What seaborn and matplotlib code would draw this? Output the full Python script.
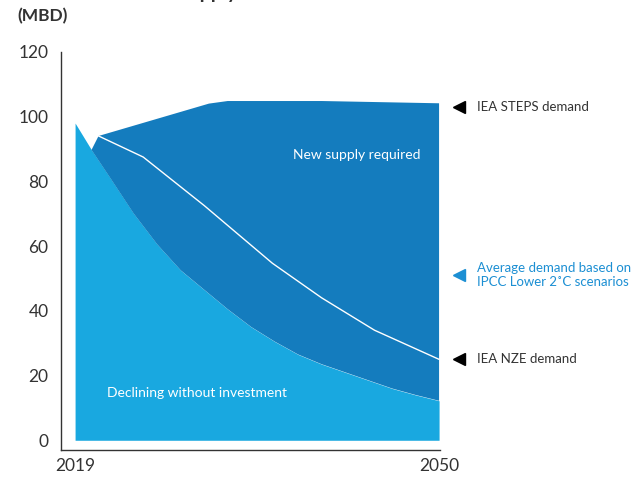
import numpy as np
import matplotlib
matplotlib.use('Agg')
import matplotlib.pyplot as plt
import seaborn as sns

# Data, million barrels per day
decline_years = [2019, 2020.4, 2022, 2024, 2026, 2028, 2030, 2032, 2034, 2036,
                 2038, 2040, 2042, 2044, 2046, 2048, 2050]
decline_vals = [98, 89.7, 81, 70, 60.5, 52.5, 46.5, 40.5, 35, 30.5,
                26.5, 23.5, 21, 18.5, 16, 14, 12.2]

steps_years = [2021, 2030.4, 2032, 2040, 2050]
steps_vals = [94, 104, 104.8, 104.8, 104.1]

nze_years = [2021, 2024.8, 2030, 2035.8, 2040, 2044.5, 2050]
nze_vals = [94, 87.5, 72.5, 54.7, 44, 34, 25]

ipcc_avg_2050 = 51
y_ticks = [0, 20, 40, 60, 80, 100, 120]
x_ticks = [2019, 2050]

light_blue = '#19A8E0'
dark_blue = '#147CBE'
text_blue = '#1C8FD3'
ink = '#333333'

sns.set_style('white')
plt.rcParams['font.family'] = ['Lato', 'DejaVu Sans']

fig = plt.figure(figsize=(6.44, 4.78), dpi=100)
ax = fig.add_axes([0.0947, 0.0586, 0.588, 0.833])

# declining supply without investment
ax.fill_between(decline_years, 0, decline_vals, color=light_blue, lw=0)

# new supply required: between declining supply and STEPS demand
poly_x = [decline_years[1]] + steps_years + decline_years[:0:-1]
poly_y = [decline_vals[1]] + steps_vals + decline_vals[:0:-1]
ax.fill(poly_x, poly_y, color=dark_blue, lw=0)

# NZE demand line
sns.lineplot(x=nze_years, y=nze_vals, color='white', lw=1, ax=ax)

ax.set_xlim(2017.8, 2050.05)
ax.set_ylim(-3, 118.5)
ax.set_yticks(y_ticks)
ax.set_xticks(x_ticks)
ax.tick_params(length=0, labelsize=12.5, labelcolor=ink, pad=6)
ax.tick_params(axis='y', pad=9)
sns.despine(ax=ax)
for s in ['left', 'bottom']:
    ax.spines[s].set_color(ink)
    ax.spines[s].set_linewidth(1)

ax.text(2043, 88, 'New supply required', color='white', fontsize=10,
        ha='center', va='center')
ax.text(2021.7, 14.6, 'Declining without investment', color='white', fontsize=10,
        ha='left', va='center')

# right-hand markers
labels = [(steps_vals[-1] - 1.1, 'IEA STEPS demand', 'black', ink),
          (ipcc_avg_2050, 'Average demand based on\nIPCC Lower 2˚C scenarios', text_blue, text_blue),
          (nze_vals[-1], 'IEA NZE demand', 'black', ink)]
for yv, txt, mcol, tcol in labels:
    ax.plot([2051.7], [yv], marker='<', color=mcol, markersize=8, clip_on=False)
    ax.text(2053.2, yv, txt, color=tcol, fontsize=9.5, ha='left', va='center',
            linespacing=1.25, clip_on=False)

fig.text(0.027, 0.967, '(MBD)', fontsize=12.5, fontweight='bold', color=ink,
         ha='left', va='center')
# title sits above the top edge; only its descenders show, as in the reference
fig.text(0.145, 1.002, 'Global oil supply', fontsize=14, fontweight='bold', color=ink,
         ha='left', va='baseline')

fig.savefig('out.png', dpi=100)
